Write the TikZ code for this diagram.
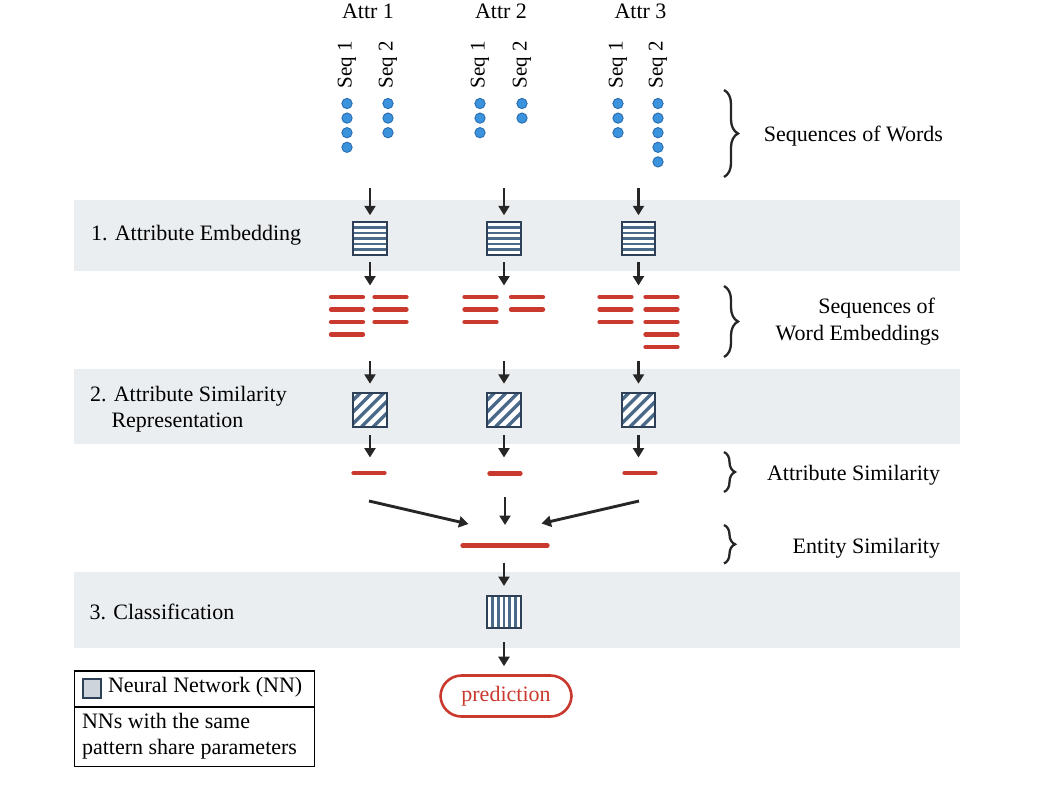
\documentclass[tikz,border=0pt]{standalone}
\usepackage{fontspec}
\setmainfont{Liberation Serif}
\usetikzlibrary{arrows.meta,decorations.pathreplacing,calc}
\definecolor{bandc}{HTML}{EBEEF0}
\definecolor{dotfill}{HTML}{3C93DD}
\definecolor{dotline}{HTML}{2A6CB0}
\definecolor{redc}{HTML}{C9392E}
\definecolor{nnborder}{HTML}{2E4057}
\definecolor{stripec}{HTML}{4B6A8A}
\definecolor{arrowc}{HTML}{262626}
\definecolor{legfill}{HTML}{CDD4DC}
\begin{document}
\begin{tikzpicture}[x=1pt,y=-1pt,
  txt/.style={font=\fontsize{22}{26}\selectfont, inner sep=0pt, outer sep=0pt},
  seqtxt/.style={font=\fontsize{21}{25}\selectfont, inner sep=0pt, outer sep=0pt, rotate=90},
  arr/.style={draw=arrowc, line width=2.9pt, -{Triangle[length=9.5pt,width=11pt]}},
  bar/.style={draw=redc, line width=4.3pt, line cap=round},
  nn/.style={fill=white, minimum width=33.5pt, minimum height=33.5pt, inner sep=0pt, outer sep=0pt},
  nnb/.style={draw=nnborder, line width=2.2pt},
  stripe/.style={draw=stripec, line width=2.7pt},
  wdot/.style={circle, fill=dotfill, draw=dotline, line width=0.9pt, minimum size=10.3pt, inner sep=0pt},
  brc/.style={draw=black!85, line width=2.3pt, decorate, decoration={brace, amplitude=14pt}}
]
\useasboundingbox (0,0) rectangle (1041,793);

% bands
\fill[bandc] (74,200) rectangle (960,270.5);
\fill[bandc] (74,369) rectangle (960,443.5);
\fill[bandc] (74,572) rectangle (960,648);

% headers
\node[txt, anchor=base] (at1) at (368,18.5) {Attr 1};
\node[txt, anchor=base] (at2) at (501,18.5) {Attr 2};
\node[txt, anchor=base] (at3) at (640.5,18.5) {Attr 3};
\foreach \x/\s/\nm in {347/1/a, 388/2/b, 480/1/c, 522/2/d, 618/1/e, 658/2/f}
  \node[seqtxt] (seq\nm) at (\x,65) {Seq \s};

% word dots
\foreach \x/\n in {347/4,388/3,480/3,522/2,618/3,658/5}
  \foreach \k in {1,...,\n}
    \node[wdot] (d-\x-\k) at (\x,{103.5+(\k-1)*14.6}) {};

% left labels
\node[txt, anchor=base west] (l1) at (91,240.7) {1. Attribute Embedding};
\node[txt, anchor=base west] (l2) at (90,401.7) {2. Attribute Similarity};
\node[txt, anchor=base west] (l2b) at (111.5,427.7) {Representation};
\node[txt, anchor=base west] (l3) at (89.5,619.3) {3. Classification};

% right labels
\node[txt, anchor=base east] (r1) at (943,141.7) {Sequences of Words};
\node[txt, anchor=base east] (r2a) at (935,313.3) {Sequences of};
\node[txt, anchor=base east] (r2b) at (939.5,340.7) {Word Embeddings};
\node[txt, anchor=base east] (r3) at (940,480) {Attribute Similarity};
\node[txt, anchor=base east] (r4) at (940,553.3) {Entity Similarity};

% braces
\coordinate (b1t) at (724,90); \coordinate (b1b) at (724,177);
\coordinate (b2t) at (724,286); \coordinate (b2b) at (724,357);
\coordinate (b3t) at (724,452); \coordinate (b3b) at (724,492);
\coordinate (b4t) at (724,525); \coordinate (b4b) at (724,563.5);
\draw[brc] (b1t) -- (b1b);
\draw[brc] (b2t) -- (b2b);
\draw[brc, decoration={brace, amplitude=11pt}] (b3t) -- (b3b);
\draw[brc, decoration={brace, amplitude=11pt}] (b4t) -- (b4b);

% NN boxes
\node[nn] (e1) at (370,238.5) {};
\node[nn] (e2) at (504,238.5) {};
\node[nn] (e3) at (638.5,238.5) {};
\node[nn] (h1) at (370,410) {};
\node[nn] (h2) at (504,410) {};
\node[nn] (h3) at (638.5,410) {};
\node[nn, minimum height=32pt] (cl) at (504,612) {};

\foreach \bx in {e1,e2,e3}{
  \foreach \k in {1,...,5}
    \draw[stripe] ([yshift={-\k*33.5/6*1pt}]\bx.north west) -- ([yshift={-\k*33.5/6*1pt}]\bx.north east);
  \draw[nnb] (\bx.south west) rectangle (\bx.north east);
}
\foreach \bx in {h1,h2,h3}{
  \begin{scope}
    \clip (\bx.south west) rectangle (\bx.north east);
    \foreach \d in {-38.3,-26.7,-15,-3.3,8.3,20}
      \draw[stripe, line width=3.3pt] ($(\bx.south west)+(\d,0)$) -- ++(45,-45);
  \end{scope}
  \draw[nnb] (\bx.south west) rectangle (\bx.north east);
}
\foreach \k in {1,...,5}
  \draw[stripe] ([xshift={\k*33.5/6*1pt}]cl.south west) -- ([xshift={\k*33.5/6*1pt}]cl.north west);
\draw[nnb] (cl.south west) rectangle (cl.north east);

% embedding bars
\foreach \xa/\xb/\n in {331/363/4, 374.5/406.5/3, 464.5/496.5/3, 511/543/2, 599.5/631.5/3, 645.5/677.5/5}
  \foreach \k in {1,...,\n}
    \draw[bar] (\xa,{297+(\k-1)*12.5}) -- (\xb,{297+(\k-1)*12.5});

% attribute similarity bars
\draw[bar] (353.5,473) -- (384.5,473);
\draw[bar] (489.5,473.5) -- (520.5,473.5);
\draw[bar] (624.5,473) -- (655.5,473);
% entity similarity bar
\draw[bar] (462.5,545.5) -- (547.5,545.5);

% arrow endpoints
\foreach \c/\x in {1/370, 2/504, 3/638.5}{
  \coordinate (sA\c) at (\x,188);
  \coordinate (sB\c) at (\x,262);
  \coordinate (tB\c) at (\x,285.5);
  \coordinate (sC\c) at (\x,361);
  \coordinate (sD\c) at (\x,435);
  \coordinate (tD\c) at (\x,457.5);
}
\foreach \c in {1,2,3}{
  \draw[arr, shorten >=6.5pt] (sA\c) -- (e\c.north);
  \draw[arr] (sB\c) -- (tB\c);
  \draw[arr, shorten >=9.5pt] (sC\c) -- (h\c.north);
  \draw[arr] (sD\c) -- (tD\c);
}
\coordinate (cvL) at (369,501); \coordinate (cvLt) at (468.5,524);
\coordinate (cvM) at (505,497); \coordinate (cvMt) at (505,525);
\coordinate (cvR) at (639,501); \coordinate (cvRt) at (541.5,523.5);
\draw[arr] (cvL) -- (cvLt);
\draw[arr] (cvM) -- (cvMt);
\draw[arr] (cvR) -- (cvRt);

\coordinate (sE) at (504,562.5);
\draw[arr, shorten >=10pt] (sE) -- (cl.north);

% prediction
\node[draw=redc, line width=2.6pt, rounded corners=21pt, minimum width=131pt, minimum height=41pt,
      inner sep=0pt, text=redc, font=\fontsize{22}{26}\selectfont] (pred) at (506,696) {prediction};
\coordinate (sF) at (504,642);
\draw[arr, shorten >=8pt] (sF) -- (pred.north -| sF);

% legend
\draw[line width=1.2pt] (74.5,671) rectangle (314.5,766.5);
\draw[line width=1.2pt] (74.5,707) -- (314.5,707);
\node[fill=legfill, draw=nnborder, line width=1.6pt, minimum size=18.5pt, inner sep=0pt] (legsq) at (92,688.5) {};
\node[txt, anchor=base west] (leg1) at (108,692.4) {Neural Network (NN)};
\node[txt, anchor=base west] (leg2) at (82,728.6) {NNs with the same};
\node[txt, anchor=base west] (leg3) at (82,754.5) {pattern share parameters};
\end{tikzpicture}
\end{document}
